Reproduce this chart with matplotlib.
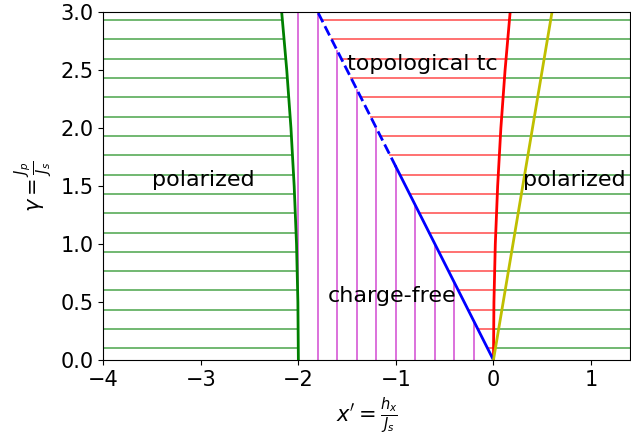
import numpy as np
import matplotlib.pyplot as plt

# phase boundaries, sampled along gamma
gamma_pts = [0.0, 0.5, 1.0, 1.5, 2.0, 2.5, 3.0]
x_left_pts = [-2.0, -2.005, -2.019, -2.043, -2.076, -2.119, -2.171]
x_right_pts = [0.0, 0.005, 0.019, 0.043, 0.076, 0.119, 0.171]

# charge-free / topological boundary
blue_solid_x = [0.0, -1.0]
blue_solid_y = [0.0, 1.667]
blue_dash_x = [-1.0, -1.8]
blue_dash_y = [1.667, 3.0]

# outer line on the right
yellow_x = [0.0, 0.6]
yellow_y = [0.0, 3.0]

# hatching positions
hatch_y = [0.1, 0.267, 0.433, 0.6, 0.767, 0.933, 1.1, 1.267, 1.433, 1.6,
           1.767, 1.933, 2.1, 2.267, 2.433, 2.6, 2.767, 2.933]
hatch_x = [-2.0, -1.8, -1.6, -1.4, -1.2, -1.0, -0.8, -0.6, -0.4, -0.2]

xmin, xmax = -4.0, 1.4
ymin, ymax = 0.0, 3.0
blue_slope = 0.6  # gamma = -x / 0.6 along the blue line

fig = plt.figure(figsize=(6.31, 4.41), dpi=100)
ax = fig.add_axes([103.3 / 631, 81 / 441, (630 - 103.3) / 631, (360 - 12.3) / 441])

for y in hatch_y:
    xl = np.interp(y, gamma_pts, x_left_pts)
    xr = np.interp(y, gamma_pts, x_right_pts)
    xb = -blue_slope * y
    ax.plot([xmin, xl], [y, y], color='g', alpha=0.6, lw=1.3)
    ax.plot([xr, xmax], [y, y], color='g', alpha=0.6, lw=1.3)
    ax.plot([xb, xr], [y, y], color='r', alpha=0.6, lw=1.3)

for x in hatch_x:
    ytop = min(-x / blue_slope, ymax)
    ax.plot([x, x], [0, ytop], color='m', alpha=0.6, lw=1.3)

ax.plot(x_left_pts, gamma_pts, color='g', lw=2)
ax.plot(x_right_pts, gamma_pts, color='r', lw=2)
ax.plot(blue_solid_x, blue_solid_y, color='b', lw=2)
ax.plot(blue_dash_x, blue_dash_y, color='b', lw=2, ls='--')
ax.plot(yellow_x, yellow_y, color='y', lw=2)

ax.text(-3.5, 1.5, 'polarized', fontsize=16)
ax.text(0.3, 1.5, 'polarized', fontsize=16)
ax.text(-1.5, 2.5, 'topological tc', fontsize=16)
ax.text(-1.7, 0.5, 'charge-free', fontsize=16)

ax.set_xlim(xmin, xmax)
ax.set_ylim(ymin, ymax)
ax.tick_params(labelsize=15)
ax.set_xlabel(r"$x'=\frac{h_x}{J_s}$", fontsize=15)
ax.set_ylabel(r"$\gamma=\frac{J_p}{J_s}$", fontsize=15)

plt.savefig('out.png', dpi=100)
